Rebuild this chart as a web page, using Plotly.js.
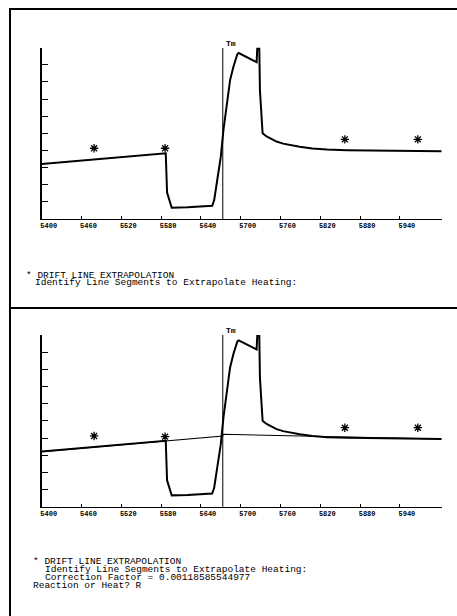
<!DOCTYPE html>
<html><head><meta charset="utf-8">
<script src="https://cdn.plot.ly/plotly-3.0.1.min.js"></script>
<style>html,body{margin:0;padding:0;background:#fff}#chart{width:457px;height:616px}</style>
</head><body><div id="chart"></div>
<script>
// Thermogram (arbitrary units) vs time
const timeSec = [5400, 5587, 5589, 5596, 5620, 5657, 5660, 5664, 5670, 5674, 5679, 5684, 5689, 5695, 5697, 5724, 5725, 5728, 5729, 5731, 5733, 5739, 5746, 5754, 5764, 5776, 5789, 5808, 5830, 5860, 5890, 5940, 6003];
const signal  = [3.21, 3.84, 1.54, 0.66, 0.68, 0.77, 1.1, 2.08, 3.64, 5.2, 6.75, 8.11, 8.89, 9.63, 9.69, 9.16, 10.0, 10.0, 7.5, 5.78, 5.0, 4.82, 4.66, 4.52, 4.4, 4.3, 4.22, 4.12, 4.05, 4.02, 4.0, 3.97, 3.95];
const driftX = [5400, 5673, 5673, 5740, 5840, 6003];
const driftY = [3.2, 4.12, 4.22, 4.17, 4.06, 3.94];
const markX = [5479, 5586, 5857, 5967];
const markYTop = [4.13, 4.13, 4.65, 4.65];
const markYBottom = [4.12, 4.08, 4.6, 4.6];
const tmX = 5673;
const tickVals = [5400, 5460, 5520, 5580, 5640, 5700, 5760, 5820, 5880, 5940];
const tickText = ['5400', '5460', '5520', '5580', '5640', '5700', '5760', '5820', '5880', '5940'];
const topText = ['* DRIFT LINE EXTRAPOLATION', 'Identify Line Segments to Extrapolate Heating:'];
const bottomText = ['* DRIFT LINE EXTRAPOLATION', 'Identify Line Segments to Extrapolate Heating:', 'Correction Factor = 0.00118585544977', 'Reaction or Heat? R'];

const W = 457, H = 616;
const px = v => v / W, py = v => 1 - v / H;
const mono = 'Liberation Mono, DejaVu Sans Mono, monospace';

const curveStyle = {color: '#000', width: 2};
const markStyle = {symbol: 'asterisk-open', size: 7, color: '#000', line: {color: '#000', width: 1.3}};

const data = [
  {x: timeSec, y: signal, xaxis: 'x', yaxis: 'y', mode: 'lines', line: curveStyle},
  {x: [tmX, tmX], y: [-0.2, 10], xaxis: 'x', yaxis: 'y', mode: 'lines', line: {color: '#000', width: 1}},
  {x: markX, y: markYTop, xaxis: 'x', yaxis: 'y', mode: 'markers', marker: markStyle, cliponaxis: false},
  {x: timeSec, y: signal, xaxis: 'x2', yaxis: 'y2', mode: 'lines', line: curveStyle},
  {x: driftX, y: driftY, xaxis: 'x2', yaxis: 'y2', mode: 'lines', line: {color: '#000', width: 1.1}},
  {x: [tmX, tmX], y: [-0.2, 10], xaxis: 'x2', yaxis: 'y2', mode: 'lines', line: {color: '#000', width: 1}},
  {x: markX, y: markYBottom, xaxis: 'x2', yaxis: 'y2', mode: 'markers', marker: markStyle, cliponaxis: false}
];

function xax(anchor) {
  return {
    anchor: anchor, domain: [px(41.7), px(441.7)], range: [5400, 6003],
    showgrid: false, zeroline: false, showline: true, linecolor: '#000', linewidth: 1,
    ticks: 'inside', ticklen: 3, tickwidth: 1, tickcolor: '#000',
    tickmode: 'array', tickvals: tickVals, ticktext: tickText,
    tickfont: {family: mono, size: 7, color: '#000', weight: 'bold'},
    ticklabelshift: 7, ticklabelstandoff: 0, fixedrange: true
  };
}
function yax(anchor, top, bottom) {
  return {
    anchor: anchor, domain: [py(bottom), py(top)], range: [0, 10],
    showgrid: false, zeroline: false, showline: true, linecolor: '#000', linewidth: 2,
    ticks: 'inside', ticklen: 6, tickwidth: 1, tickcolor: '#000',
    tickmode: 'array', tickvals: [1, 2, 3, 4, 5, 6, 7, 8, 9, 10], showticklabels: false, fixedrange: true
  };
}

const annotations = [];
function line(txt, x, y) {
  annotations.push({text: txt, xref: 'paper', yref: 'paper', x: px(x), y: py(y), xanchor: 'left', yanchor: 'middle',
    showarrow: false, borderpad: 0, font: {family: mono, size: 9.5, color: '#000'}});
}
line(topText[0], 25, 275);
line(topText[1], 33.5, 282.3);
line(bottomText[0], 31.5, 561.7);
line(bottomText[1], 43.5, 569.8);
line(bottomText[2], 43.5, 577.6);
line(bottomText[3], 31.5, 585.5);
['x', 'x2'].forEach((xr, i) => {
  annotations.push({text: 'Tm', xref: xr, yref: i ? 'y2' : 'y', x: tmX, y: 10, xanchor: 'left', yanchor: 'middle', xshift: 2, yshift: 4,
    showarrow: false, borderpad: 0, font: {family: mono, size: 8, color: '#000', weight: 'bold'}});
});

const border = {color: '#000', width: 2};
const shapes = [
  {type: 'line', xref: 'paper', yref: 'paper', x0: px(9), x1: 1, y0: py(9), y1: py(9), line: border},
  {type: 'line', xref: 'paper', yref: 'paper', x0: px(10), x1: px(10), y0: py(8), y1: 0, line: border},
  {type: 'line', xref: 'paper', yref: 'paper', x0: px(9), x1: 1, y0: py(308), y1: py(308), line: border}
];

const layout = {
  width: W, height: H, margin: {l: 0, r: 0, t: 0, b: 0},
  paper_bgcolor: '#fff', plot_bgcolor: 'rgba(0,0,0,0)', showlegend: false,
  xaxis: xax('y'), yaxis: yax('x', 47.7, 219),
  xaxis2: xax('y2'), yaxis2: yax('x2', 335, 506.7),
  annotations: annotations, shapes: shapes
};

Plotly.newPlot('chart', data, layout, {staticPlot: true, displayModeBar: false});
</script></body></html>
